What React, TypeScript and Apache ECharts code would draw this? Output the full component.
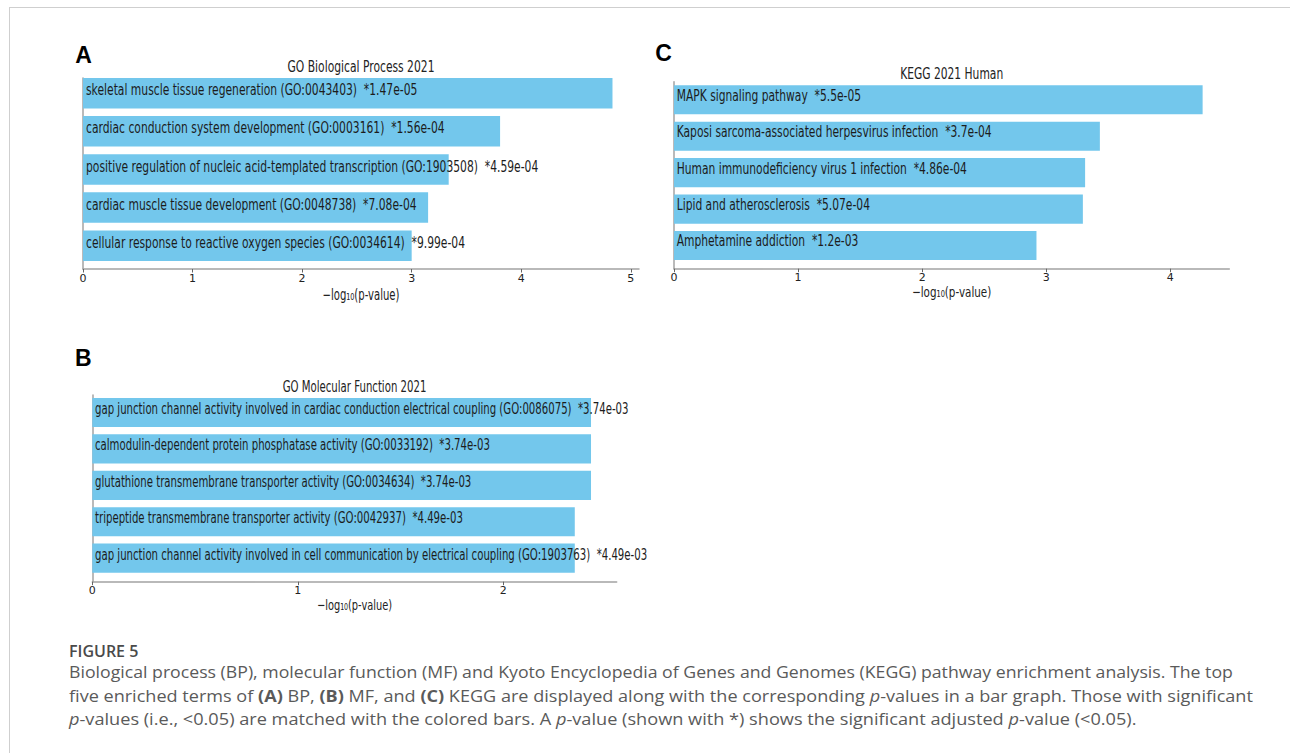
import React, { useEffect, useRef } from 'react';
import * as echarts from 'echarts';

// ---------- DATA ----------
const bpTitle = 'GO Biological Process 2021';
const bpTerms = [
  'skeletal muscle tissue regeneration (GO:0043403)',
  'cardiac conduction system development (GO:0003161)',
  'positive regulation of nucleic acid-templated transcription (GO:1903508)',
  'cardiac muscle tissue development (GO:0048738)',
  'cellular response to reactive oxygen species (GO:0034614)',
];
const bpPLabels = ['1.47e-05', '1.56e-04', '4.59e-04', '7.08e-04', '9.99e-04'];
const bpValues = [4.833, 3.807, 3.338, 3.15, 3.0];
const bpTicks = [0, 1, 2, 3, 4, 5];

const mfTitle = 'GO Molecular Function 2021';
const mfTerms = [
  'gap junction channel activity involved in cardiac conduction electrical coupling (GO:0086075)',
  'calmodulin-dependent protein phosphatase activity (GO:0033192)',
  'glutathione transmembrane transporter activity (GO:0034634)',
  'tripeptide transmembrane transporter activity (GO:0042937)',
  'gap junction channel activity involved in cell communication by electrical coupling (GO:1903763)',
];
const mfPLabels = ['3.74e-03', '3.74e-03', '3.74e-03', '4.49e-03', '4.49e-03'];
const mfValues = [2.427, 2.427, 2.427, 2.348, 2.348];
const mfTicks = [0, 1, 2];

const keggTitle = 'KEGG 2021 Human';
const keggTerms = [
  'MAPK signaling pathway',
  'Kaposi sarcoma-associated herpesvirus infection',
  'Human immunodeficiency virus 1 infection',
  'Lipid and atherosclerosis',
  'Amphetamine addiction',
];
const keggPLabels = ['5.5e-05', '3.7e-04', '4.86e-04', '5.07e-04', '1.2e-03'];
const keggValues = [4.26, 3.432, 3.313, 3.295, 2.921];
const keggTicks = [0, 1, 2, 3, 4];

const axisName = '\u2212log\u2081\u2080(p-value)';

const captionHead = 'FIGURE 5';
const captionLine1 =
  'Biological process (BP), molecular function (MF) and Kyoto Encyclopedia of Genes and Genomes (KEGG) pathway enrichment analysis. The top';
const captionLine2 =
  '{r|five enriched terms of }{b|(A)}{r| BP, }{b|(B)}{r| MF, and }{b|(C)}{r| KEGG are displayed along with the corresponding }{i|p}{r|-values in a bar graph. Those with significant}';
const captionLine3 =
  '{i|p}{r|-values (i.e., <0.05) are matched with the colored bars. A }{i|p}{r|-value (shown with *) shows the significant adjusted }{i|p}{r|-value (<0.05).}';

// ---------- STYLE / LAYOUT ----------
const FONT = 'DejaVu Sans';
const BAR = '#73C7EC';
const AXIS = '#a3a3a3';
const CAP_FONT = 'Open Sans';
const CAP_COLOR = '#5a5a5a';

const panels = [
  {
    letter: 'A', letterPos: [83.5, 55], title: bpTitle, terms: bpTerms, pLabels: bpPLabels, values: bpValues, ticks: bpTicks,
    grid: { left: 83, top: 78, width: 556, height: 191 }, xMax: 5.075, yMin: -0.4, yMax: 4.61,
    fontSize: 16, scaleX: 0.672, textDy: -3.8, pad: 3, titleY: 66, nameY: 295, nameSize: 15,
  },
  {
    letter: 'B', letterPos: [83.3, 358], title: mfTitle, terms: mfTerms, pLabels: mfPLabels, values: mfValues, ticks: mfTicks,
    grid: { left: 92.3, top: 395, width: 524.4, height: 186.7 }, xMax: 2.552, yMin: -0.48, yMax: 4.646,
    fontSize: 15, scaleX: 0.677, textDy: -3.7, pad: 2.7, titleY: 386.5, nameY: 605, nameSize: 14.5,
  },
  {
    letter: 'C', letterPos: [663.5, 52.5], title: keggTitle, terms: keggTerms, pLabels: keggPLabels, values: keggValues, ticks: keggTicks,
    grid: { left: 674, top: 81.7, width: 555.3, height: 187 }, xMax: 4.475, yMin: -0.497, yMax: 4.637,
    fontSize: 15, scaleX: 0.715, textDy: -4.2, pad: 2.7, titleY: 73.5, nameY: 291.5, nameSize: 14.5,
  },
];

function buildOption() {
  const grid: any[] = [];
  const xAxis: any[] = [];
  const yAxis: any[] = [];
  const series: any[] = [];
  const graphic: any[] = [];

  // figure frame
  graphic.push({ type: 'line', shape: { x1: 9, y1: 7.5, x2: 1290, y2: 7.5 }, style: { stroke: '#cfcfcf', lineWidth: 1 } });
  graphic.push({ type: 'line', shape: { x1: 9.5, y1: 7, x2: 9.5, y2: 753 }, style: { stroke: '#cfcfcf', lineWidth: 1 } });

  panels.forEach((p, i) => {
    grid.push({ ...p.grid, containLabel: false });
    xAxis.push({
      type: 'value', gridIndex: i, min: 0, max: p.xMax,
      axisLine: { show: true, onZero: false, lineStyle: { color: AXIS, width: 1.5 } },
      axisTick: { show: true, length: 3.5, customValues: p.ticks, lineStyle: { color: '#666', width: 1 } },
      axisLabel: { show: true, customValues: p.ticks, margin: 3.5, fontFamily: FONT, fontSize: 11, color: '#222' },
      splitLine: { show: false },
    });
    yAxis.push({
      type: 'value', gridIndex: i, inverse: true, min: p.yMin, max: p.yMax,
      axisLine: { show: true, onZero: false, lineStyle: { color: AXIS, width: 1.5 } },
      axisTick: { show: false }, axisLabel: { show: false }, splitLine: { show: false },
    });
    const labels = p.terms.map((t, k) => t + '  *' + p.pLabels[k]);
    series.push({
      type: 'custom', xAxisIndex: i, yAxisIndex: i, clip: false,
      data: p.values.map((v, k) => [v, k]),
      encode: { x: 0, y: 1 },
      renderItem: (params: any, api: any) => {
        const v = api.value(0);
        const idx = api.value(1);
        const s = api.coord([0, idx]);
        const e = api.coord([v, idx]);
        const h = Math.abs(api.size([0, 0.8])[1]);
        return {
          type: 'group',
          children: [
            { type: 'rect', shape: { x: s[0], y: s[1] - h / 2, width: e[0] - s[0], height: h }, style: { fill: BAR } },
            {
              type: 'text', x: s[0] + p.pad, y: s[1] + p.textDy, scaleX: p.scaleX,
              style: {
                text: labels[params.dataIndex], fontFamily: FONT, fontSize: p.fontSize, fill: '#1c1c1c',
                textAlign: 'left', textVerticalAlign: 'middle',
              },
            },
          ],
        };
      },
    });
    const cx = p.grid.left + p.grid.width / 2;
    graphic.push({
      type: 'text', x: cx, y: p.titleY, scaleX: p.scaleX,
      style: { text: p.title, fontFamily: FONT, fontSize: p.fontSize, fill: '#222', textAlign: 'center', textVerticalAlign: 'middle' },
    });
    graphic.push({
      type: 'text', x: cx, y: p.nameY, scaleX: p.scaleX,
      style: { text: axisName, fontFamily: FONT, fontSize: p.nameSize, fill: '#222', textAlign: 'center', textVerticalAlign: 'middle' },
    });
    graphic.push({
      type: 'text', x: p.letterPos[0], y: p.letterPos[1],
      style: { text: p.letter, fontFamily: 'Liberation Sans', fontWeight: 'bold', fontSize: 23, fill: '#000', textAlign: 'center', textVerticalAlign: 'middle' },
    });
  });

  // caption
  const rich = {
    r: { fontFamily: CAP_FONT, fontSize: 16, fill: CAP_COLOR },
    b: { fontFamily: CAP_FONT, fontSize: 16, fill: CAP_COLOR, fontWeight: 'bold' },
    i: { fontFamily: CAP_FONT, fontSize: 16, fill: CAP_COLOR, fontStyle: 'italic' },
  };
  graphic.push({
    type: 'text', x: 69, y: 650.5,
    style: { text: captionHead, fontFamily: CAP_FONT, fontSize: 16, fontWeight: 600, fill: '#4a4a4a', textAlign: 'left', textVerticalAlign: 'middle' },
  });
  graphic.push({
    type: 'text', x: 69, y: 672, scaleX: 1.106,
    style: { text: captionLine1, fontFamily: CAP_FONT, fontSize: 16, fill: CAP_COLOR, textAlign: 'left', textVerticalAlign: 'middle' },
  });
  graphic.push({
    type: 'text', x: 69, y: 695.5, scaleX: 1.13,
    style: { text: captionLine2, rich, textAlign: 'left', textVerticalAlign: 'middle' },
  });
  graphic.push({
    type: 'text', x: 69, y: 719, scaleX: 1.135,
    style: { text: captionLine3, rich, textAlign: 'left', textVerticalAlign: 'middle' },
  });

  return { animation: false, backgroundColor: '#ffffff', grid, xAxis, yAxis, series, graphic };
}

export default function App() {
  const ref = useRef<HTMLDivElement>(null);
  useEffect(() => {
    document.body.style.margin = '0';
    const chart = echarts.init(ref.current as HTMLDivElement, null, { renderer: 'svg' });
    chart.setOption(buildOption() as any);
    return () => chart.dispose();
  }, []);
  return <div ref={ref} style={{ width: 1290, height: 753 }} />;
}
